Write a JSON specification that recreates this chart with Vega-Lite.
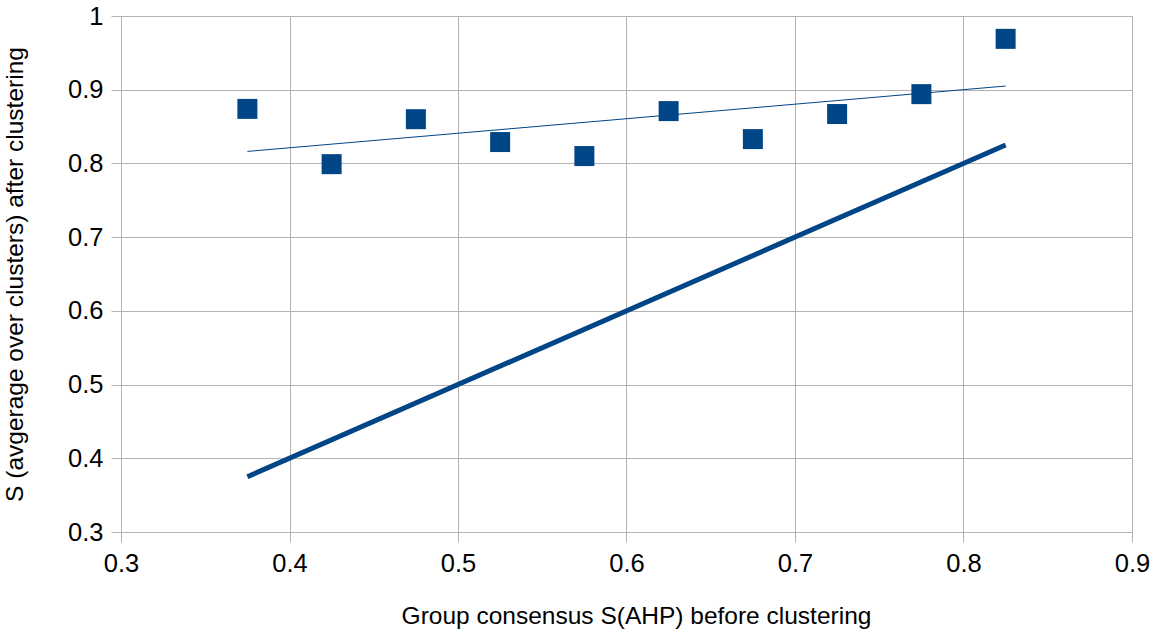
{
  "$schema": "https://vega.github.io/schema/vega-lite/v6.json",
  "autosize": {"type": "none"},
  "width": 1011,
  "height": 516,
  "padding": {"left": 121, "top": 16, "right": 28, "bottom": 103},
  "background": "white",
  "config": {
    "view": {"stroke": null},
    "axis": {
      "gridColor": "#b3b3b3",
      "domainColor": "#b3b3b3",
      "tickColor": "#b3b3b3",
      "tickSize": 10,
      "labelFlush": false,
      "labelOverlap": false,
      "labelFont": "Liberation Sans",
      "titleFont": "Liberation Sans",
      "labelFontSize": 25.5,
      "titleFontSize": 24.5,
      "titleFontWeight": "normal",
      "labelColor": "#000000",
      "titleColor": "#000000"
    }
  },
  "datasets": {
    "pts": [
      {"x": 0.375, "y": 0.874},
      {"x": 0.425, "y": 0.799},
      {"x": 0.475, "y": 0.860},
      {"x": 0.525, "y": 0.829},
      {"x": 0.575, "y": 0.810},
      {"x": 0.625, "y": 0.871},
      {"x": 0.675, "y": 0.833},
      {"x": 0.725, "y": 0.867},
      {"x": 0.775, "y": 0.894},
      {"x": 0.825, "y": 0.969}
    ],
    "trend": [
      {"x": 0.375, "y": 0.8163},
      {"x": 0.825, "y": 0.905}
    ],
    "diag": [
      {"x": 0.375, "y": 0.375},
      {"x": 0.825, "y": 0.825}
    ]
  },
  "layer": [
    {
      "data": {"name": "diag"},
      "mark": {"type": "line", "color": "#004586", "strokeWidth": 5},
      "encoding": {
        "x": {
          "field": "x", "type": "quantitative",
          "scale": {"domain": [0.3, 0.9], "nice": false, "zero": false},
          "axis": {"values": [0.3, 0.4, 0.5, 0.6, 0.7, 0.8, 0.9], "format": ".1~f", "title": "Group consensus S(AHP) before clustering", "labelPadding": 9, "titlePadding": 28, "titleX": 515}
        },
        "y": {
          "field": "y", "type": "quantitative",
          "scale": {"domain": [0.3, 1], "nice": false, "zero": false},
          "axis": {"values": [0.3, 0.4, 0.5, 0.6, 0.7, 0.8, 0.9, 1], "format": ".1~f", "title": "S (avgerage over clusters) after clustering", "labelPadding": 8, "titlePadding": 40}
        }
      }
    },
    {
      "data": {"name": "trend"},
      "mark": {"type": "line", "color": "#004586", "strokeWidth": 1},
      "encoding": {
        "x": {"field": "x", "type": "quantitative"},
        "y": {"field": "y", "type": "quantitative"}
      }
    },
    {
      "data": {"name": "pts"},
      "mark": {"type": "point", "shape": "square", "filled": true, "size": 400, "color": "#004586", "opacity": 1},
      "encoding": {
        "x": {"field": "x", "type": "quantitative"},
        "y": {"field": "y", "type": "quantitative"}
      }
    }
  ]
}
